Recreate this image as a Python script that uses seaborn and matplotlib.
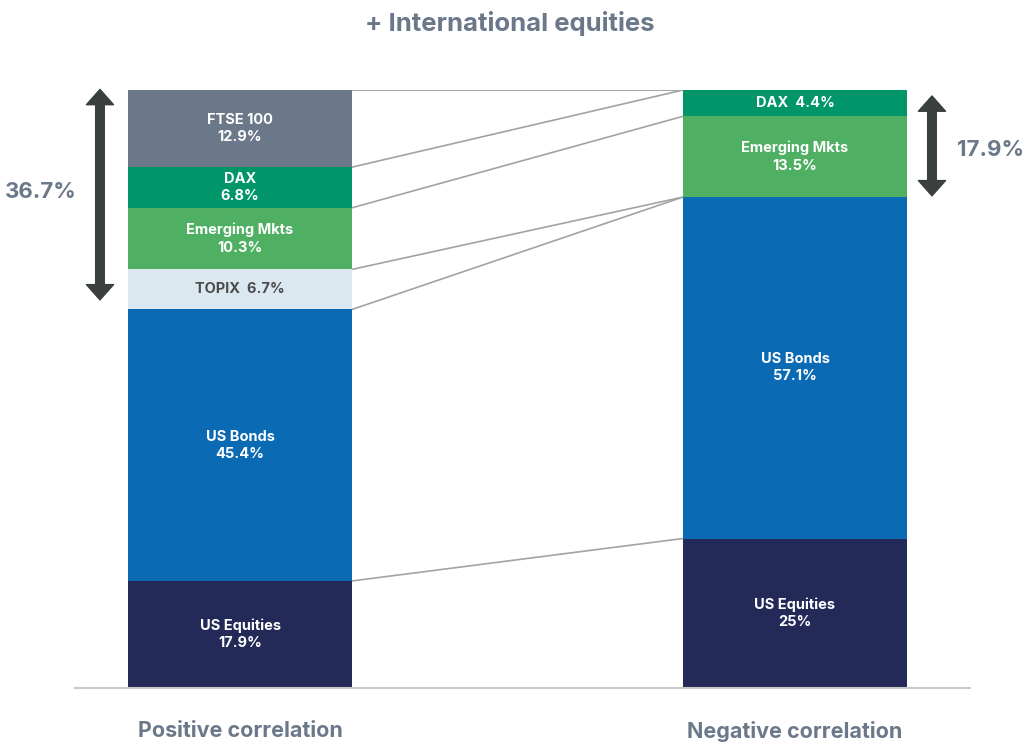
import numpy as np
import pandas as pd
import matplotlib
matplotlib.use("Agg")
import matplotlib.pyplot as plt
import seaborn as sns
from matplotlib.patches import FancyArrowPatch

# --- data (stacked bottom -> top) ---
bars = ["Positive correlation", "Negative correlation"]
assets = ["US Equities", "US Bonds", "TOPIX", "Emerging Mkts", "DAX", "FTSE 100"]
positive = [17.9, 45.4, 6.7, 10.3, 6.8, 12.9]
negative = [25.0, 57.1, 0.0, 13.5, 4.4, 0.0]
colors = ["#232a58", "#0b6ab4", "#dce8f0", "#4fb063", "#00966a", "#6b7889"]
# segments labelled on a single line
one_line = [("Positive correlation", "TOPIX"), ("Negative correlation", "DAX")]
bracket_left = 36.7
bracket_right = 17.9

sns.set_theme(style="white")
plt.rcParams["font.family"] = ["Inter", "DejaVu Sans"]

grey_txt = "#6b7889"
W = 0.4036

fig = plt.figure(figsize=(10.25, 7.45), dpi=100)
ax = fig.add_axes([75 / 1025, 57 / 745, 895 / 1025, 598 / 745])

df = pd.DataFrame({"asset": np.repeat(assets, 2),
                   "bar": bars * len(assets),
                   "value": [v for pair in zip(positive, negative) for v in pair]})
df["bottom"] = df.groupby("bar")["value"].cumsum() - df["value"]

for asset, col in zip(assets, colors):
    sub = df[df["asset"] == asset]
    sns.barplot(data=sub, x="bar", y="value", order=bars, color=col,
                bottom=sub["bottom"].values, width=W, saturation=1,
                edgecolor="none", linewidth=0, ax=ax, zorder=2)

# segment labels
for _, r in df.iterrows():
    if r["value"] <= 0:
        continue
    xi = bars.index(r["bar"])
    pct = f"{r['value']:g}%"
    if (r["bar"], r["asset"]) in one_line:
        txt = f"{r['asset']}  {pct}"
    else:
        txt = f"{r['asset']}\n{pct}"
    tc = "#4a4a4a" if r["asset"] == "TOPIX" else "white"
    ax.text(xi, r["bottom"] + r["value"] / 2, txt, ha="center", va="center",
            color=tc, fontsize=10.5, fontweight="bold", linespacing=1.3, zorder=4)

# connecting lines between stacks
cum_pos = np.cumsum(positive)
neg_arr = np.array(negative)
for k in range(len(assets)):
    yl = cum_pos[k]
    yr = neg_arr[:k + 1].sum()
    ax.plot([W / 2, 1 - W / 2], [yl, yr], color="#a3a3a3", lw=1.2, zorder=1,
            solid_capstyle="butt")
ax.plot([W / 2, 1 - W / 2], [100, 100], color="#a3a3a3", lw=1.2, zorder=1)

# bracket arrows
def double_arrow(x, y0, y1):
    mid = (y0 + y1) / 2
    for end in (y0, y1):
        a = FancyArrowPatch((x, mid), (x, end), transform=ax.transData,
                            arrowstyle="simple,head_length=1.1,head_width=1.95,tail_width=0.62",
                            mutation_scale=10, color="#3a4040", clip_on=False,
                            shrinkA=0, shrinkB=0, zorder=5)
        ax.add_patch(a)

double_arrow(-0.2523, 100 - bracket_left + 1.6, 100.1)
double_arrow(1.2468, 100 - bracket_right + 0.2, 99.0)
ax.text(-0.3598, 83, f"{bracket_left:g}%", ha="center", va="center",
        fontsize=16, fontweight="bold", color=grey_txt, clip_on=False)
ax.text(1.352, 90, f"{bracket_right:g}%", ha="center", va="center",
        fontsize=16, fontweight="bold", color=grey_txt, clip_on=False)

ax.set_xlim((75 - 240) / 555, (970 - 240) / 555)
ax.set_ylim(0, 100)
ax.set_yticks([])
ax.set_xlabel("")
ax.set_ylabel("")
ax.set_xticks([0, 1])
ax.set_xticklabels(bars, fontsize=15.5, fontweight="bold", color=grey_txt)
ax.tick_params(axis="x", length=0, pad=24)
for s in ["top", "left", "right"]:
    ax.spines[s].set_visible(False)
ax.spines["bottom"].set_color("#c8c8c8")
ax.spines["bottom"].set_linewidth(1.5)
ax.spines["bottom"].set_zorder(3)

fig.text(510 / 1025, 1 - 24 / 745, "+ International equities", ha="center",
         va="center", fontsize=18.5, fontweight="bold", color=grey_txt)

fig.savefig("out.png", dpi=100, facecolor="white")
